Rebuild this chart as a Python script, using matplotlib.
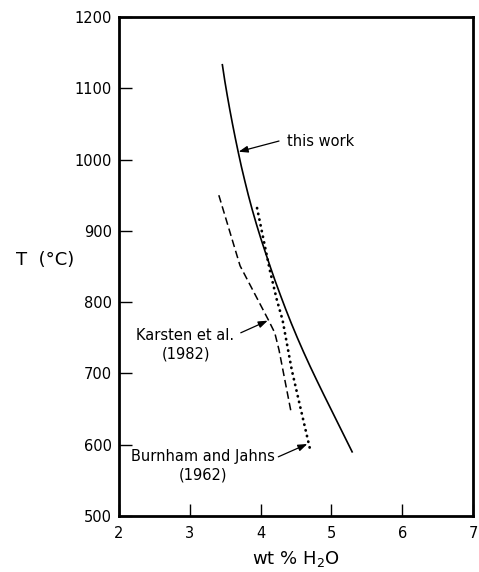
import matplotlib
matplotlib.use("Agg")
import matplotlib.pyplot as plt

# ======================
# DATA
# ======================
# this work (solid)
this_work_wt = [3.460, 3.495, 3.529, 3.565, 3.603, 3.643, 3.685, 3.729, 3.777,
                3.827, 3.881, 3.939, 4.001, 4.067, 4.135, 4.205, 4.279, 4.355,
                4.435, 4.519, 4.607, 4.699, 4.795, 4.893, 4.993, 5.093, 5.193,
                5.293]
this_work_T = [1133, 1110, 1090, 1070, 1050, 1030, 1010, 990, 970,
               950, 930, 910, 890, 870, 850, 830, 810, 790,
               770, 750, 730, 710, 690, 670, 650, 630, 610,
               590]

# Karsten et al. (1982) (dashed)
karsten_wt = [3.41, 3.71, 4.11, 4.20, 4.26, 4.43]
karsten_T = [950, 851, 775, 757, 733, 646]

# Burnham and Jahns (1962) (dotted)
burnham_wt = [3.95, 4.13, 4.23, 4.31, 4.44, 4.56, 4.70]
burnham_T = [932, 845, 803, 775, 705, 653, 593]

x_ticks = [2, 3, 4, 5, 6, 7]
y_ticks = [500, 600, 700, 800, 900, 1000, 1100, 1200]

# ======================
# PLOT
# ======================
plt.rcParams["font.family"] = "DejaVu Sans"
plt.rcParams["mathtext.default"] = "regular"

fig = plt.figure(figsize=(4.79, 5.72), dpi=100)
ax = fig.add_axes([0.2484, 0.0979, 0.7391, 0.8724])

ax.plot(this_work_wt, this_work_T, color="black", lw=1.2)
ax.plot(karsten_wt, karsten_T, color="black", lw=1.1, linestyle=(0, (5, 2.6)))
ax.plot(burnham_wt, burnham_T, color="black", lw=2.0,
        linestyle=(0, (0.1, 2.0)), dash_capstyle="round")

ax.set_xlim(2, 7)
ax.set_ylim(500, 1200)
ax.set_xticks(x_ticks)
ax.set_yticks(y_ticks)

for side in ["left", "right", "top", "bottom"]:
    ax.spines[side].set_linewidth(2.0)

ax.tick_params(direction="in", length=9, width=1.0, labelsize=10.5, pad=5)
ax.tick_params(axis="x", pad=7)

ax.set_xlabel("wt % H$_2$O", fontsize=13, labelpad=6)
ax.set_ylabel("T  (°C)", fontsize=13, rotation=0, ha="center", va="center")
ax.yaxis.set_label_coords(-0.21, 0.513)

# labels + arrows
arrow = dict(arrowstyle="-|>,head_length=0.55,head_width=0.2", color="black",
             lw=0.9, shrinkA=0, shrinkB=0)

ax.text(4.37, 1025, "this work", fontsize=10.5, ha="left", va="center")
ax.annotate("", xy=(3.69, 1011), xytext=(4.26, 1026), arrowprops=arrow)

ax.text(2.94, 740, "Karsten et al.\n(1982)", fontsize=10.5, ha="center",
        va="center", linespacing=1.3)
ax.annotate("", xy=(4.10, 774), xytext=(3.72, 757), arrowprops=arrow)

ax.text(3.19, 570, "Burnham and Jahns\n(1962)", fontsize=10.5, ha="center",
        va="center", linespacing=1.3)
ax.annotate("", xy=(4.66, 601), xytext=(4.25, 583), arrowprops=arrow)

plt.savefig("out.png", dpi=100)
plt.close()
